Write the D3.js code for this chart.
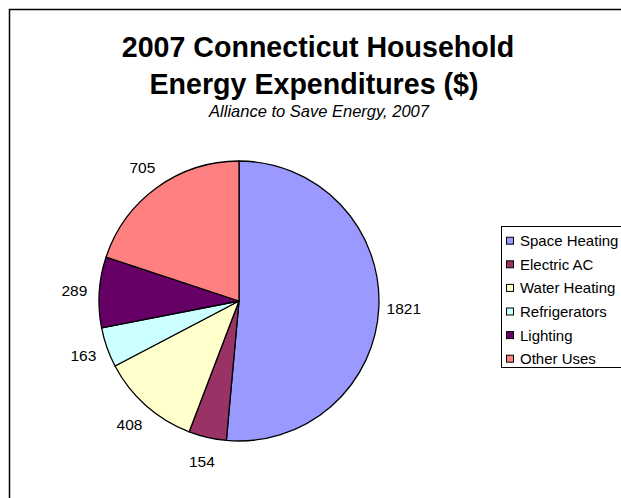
<!DOCTYPE html>
<html>
<head>
<meta charset="utf-8">
<script src="https://cdn.jsdelivr.net/npm/d3@7"></script>
<style>
  body { margin: 0; background: #fff; }
  text { font-family: Arial, "Liberation Sans", sans-serif; }
</style>
</head>
<body>
<script>
// data
var categories = ["Space Heating", "Electric AC", "Water Heating", "Refrigerators", "Lighting", "Other Uses"];
var values = [1821, 154, 408, 163, 289, 705];
var colors = ["#9999FF", "#993366", "#FFFFCC", "#CCFFFF", "#660066", "#FF8080"];

var width = 621, height = 498;
var cx = 239, cy = 301, radius = 140;
var labelRadius = 165;

var svg = d3.select("body").append("svg")
  .attr("width", width)
  .attr("height", height)

// chart border, runs off the right and bottom edge
svg.append("rect")
  .attr("x", 9.5).attr("y", 9.5)
  .attr("width", 700).attr("height", 600)
  .style("fill", "none")
  .style("stroke", "#000")
  .style("stroke-width", 1.5)

// titles
svg.append("text")
  .attr("x", 318).attr("y", 57)
  .attr("text-anchor", "middle")
  .style("font-size", "28.6px").style("font-weight", "bold")
  .text("2007 Connecticut Household")
svg.append("text")
  .attr("x", 314).attr("y", 94)
  .attr("text-anchor", "middle")
  .style("font-size", "28.6px").style("font-weight", "bold")
  .text("Energy Expenditures ($)")
svg.append("text")
  .attr("x", 319).attr("y", 117)
  .attr("text-anchor", "middle")
  .style("font-size", "16.5px").style("font-style", "italic")
  .text("Alliance to Save Energy, 2007")

var color = d3.scaleOrdinal().domain(categories).range(colors);

var pie = d3.pie().sort(null).value(d => d.value);
var arcs = pie(categories.map((c, i) => ({name: c, value: values[i]})));

var arc = d3.arc().innerRadius(0).outerRadius(radius);
var labelArc = d3.arc().innerRadius(labelRadius).outerRadius(labelRadius);

var g = svg.append("g").attr("transform", "translate(" + cx + "," + cy + ")");

g.selectAll("path")
  .data(arcs)
  .enter().append("path")
  .attr("d", arc)
  .style("fill", d => color(d.data.name))
  .style("stroke", "#000")
  .style("stroke-width", 1.3)
  .style("stroke-linejoin", "round")

g.selectAll("text.lbl")
  .data(arcs)
  .enter().append("text")
  .attr("class", "lbl")
  .attr("transform", d => "translate(" + labelArc.centroid(d) + ")")
  .attr("text-anchor", "middle")
  .attr("dy", "0.36em")
  .style("font-size", "15.5px")
  .text(d => d.data.value)

// legend
var legX = 501, legY = 226, rowH = 23.6;
svg.append("rect")
  .attr("x", legX + 0.5).attr("y", legY + 0.5)
  .attr("width", 200).attr("height", 141)
  .style("fill", "#fff")
  .style("stroke", "#000")
  .style("stroke-width", 1)

var leg = svg.selectAll("g.leg")
  .data(categories)
  .enter().append("g")
  .attr("class", "leg")
  .attr("transform", (d, i) => "translate(" + (legX + 5) + "," + (legY + 14.7 + i * rowH) + ")")

leg.append("rect")
  .attr("x", 0.5).attr("y", -3.5)
  .attr("width", 7).attr("height", 7)
  .style("fill", d => color(d))
  .style("stroke", "#000")
  .style("stroke-width", 1)

leg.append("text")
  .attr("x", 14).attr("y", 5.5)
  .style("font-size", "15px")
  .text(d => d)
</script>
</body>
</html>
